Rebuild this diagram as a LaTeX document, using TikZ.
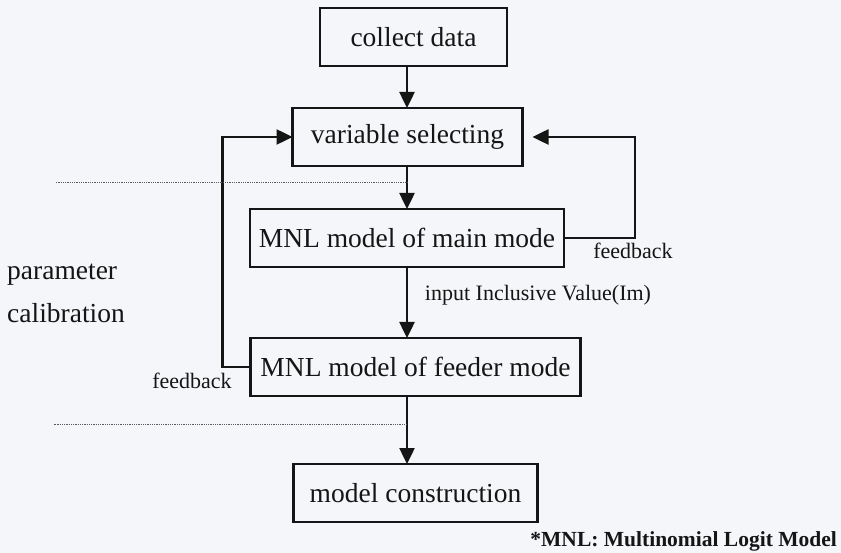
\documentclass[tikz,border=0pt]{standalone}
\usepackage{fontspec}
\setmainfont{Liberation Serif}
\usetikzlibrary{arrows.meta,positioning}
\definecolor{ScanInk}{HTML}{151515}
\definecolor{ScanPaper}{HTML}{F4F6F9}
\definecolor{ScanDots}{HTML}{5A5A5A}

\begin{document}
\begin{tikzpicture}[x=1pt, y=-1pt,
    every node/.style={text=ScanInk, font=\fontsize{27.5}{33}\selectfont},
    stage/.style={draw=ScanInk, line width=2.5pt, minimum height=58pt, inner sep=4pt, outer sep=0pt, align=center},
    flow/.style={-{Triangle[length=16pt, width=15pt]}, line width=2.5pt, ScanInk},
    note/.style={inner sep=0pt, font=\fontsize{22}{26}\selectfont},
    split/.style={densely dotted, line width=0.8pt, ScanDots}]
    \fill[ScanPaper] (0,0) rectangle (841,553);
    \useasboundingbox (0,0) rectangle (841,553);

    \node[stage, minimum width=187pt] (collect) at (413.5,37) {collect data};
    \node[stage, minimum width=230pt, below=42pt of collect, xshift=-6pt] (variable) {variable selecting};
    \node[stage, minimum width=314pt, below=43pt of variable, xshift=-0.5pt] (main) {MNL model of main mode};
    \node[stage, minimum width=330pt, below=71pt of main, xshift=8.5pt] (feeder) {MNL model of feeder mode};
    \node[stage, minimum width=244pt, below=68pt of feeder] (construction) {model construction};

    \node[inner sep=0pt, align=left, anchor=west, font=\fontsize{27.5}{43}\selectfont] (calib) at (7,293.5) {parameter\\calibration};
    \node[note] (ivalue) at (538,295) {input Inclusive Value(Im)};
    \node[note] (fbright) at (633,251) {feedback};
    \node[note] (fbleft) at (192,381) {feedback};
    \node[inner sep=0pt, anchor=east, font=\bfseries\fontsize{21.5}{26}\selectfont] (mnlkey) at (837,541) {*MNL: Multinomial Logit Model};

    % main chain
    \draw[flow] (collect.south -| main.north) -- (variable.north -| main.north);
    \draw[flow] (variable.south -| main.north) -- (main.north);
    \draw[flow] (main.south) -- (feeder.north -| main.south);
    \draw[flow] (feeder.south -| main.south) -- (construction.north -| main.south);

    % feedback loops
    \draw[flow] (main.east) -- ++(71,0) |- ([xshift=10pt]variable.east);
    \draw[flow] (feeder.west) -- ++(-28,0) |- (variable.west);

    % calibration band
    \draw[split] ([yshift=-16pt]variable.south) -- ++(-352,0);
    \draw[split] ([yshift=-28pt, xshift=-9pt]feeder.south) -- ++(-353,0);
\end{tikzpicture}
\end{document}
